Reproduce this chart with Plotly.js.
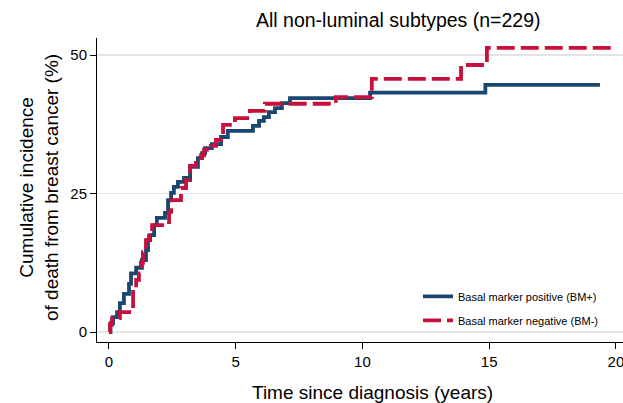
<!DOCTYPE html>
<html>
<head>
<meta charset="utf-8">
<script src="https://cdn.plot.ly/plotly-3.0.1.min.js"></script>
<style>
html,body{margin:0;padding:0;background:#fff;overflow:hidden;}
#chart{width:640px;height:403px;}
</style>
</head>
<body>
<div id="chart"></div>
<script>
// Basal marker positive (BM+): step times (years) and cumulative incidence (%)
var bmPosTime = [0, 0.06, 0.16, 0.32, 0.43, 0.59, 0.79, 0.87, 1.07, 1.30, 1.46, 1.54, 1.62, 1.78, 1.89, 2.21, 2.33, 2.45, 2.56, 2.72, 2.96, 3.20, 3.51, 3.67, 3.79, 4.06, 4.42, 4.69, 5.68, 5.92, 6.11, 6.31, 6.55, 6.82, 7.14, 10.30, 14.85, 19.37];
var bmPosInc  = [0, 1.6, 2.7, 3.6, 5.2, 6.9, 8.7, 10.6, 11.6, 13.0, 14.8, 16.6, 17.5, 19.3, 20.6, 21.5, 23.8, 25.1, 26.2, 27.1, 27.8, 29.8, 31.4, 32.3, 33.2, 33.9, 35.2, 36.3, 37.2, 38.1, 38.8, 39.7, 40.4, 41.3, 42.2, 43.2, 44.6, 44.6];

// Basal marker negative (BM-)
var bmNegTime = [0, 0.04, 0.12, 0.43, 0.95, 1.07, 1.18, 1.26, 1.34, 1.46, 1.58, 1.70, 2.37, 2.45, 2.84, 3.04, 3.20, 3.43, 3.63, 3.75, 4.02, 4.22, 4.50, 4.97, 5.56, 6.15, 8.95, 10.37, 13.89, 14.91, 20.0];
var bmNegInc  = [0, 1.3, 2.5, 3.6, 7.6, 9.4, 10.6, 12.5, 14.4, 16.6, 17.9, 19.3, 21.7, 23.8, 26.0, 27.4, 30.0, 31.0, 31.9, 32.9, 33.6, 34.7, 37.4, 38.6, 39.9, 41.2, 42.4, 45.7, 48.2, 51.3, 51.3];

var seriesNames = ["Basal marker positive (BM+)", "Basal marker negative (BM-)"];
var xTicks = [0, 5, 10, 15, 20];
var yTicks = [0, 25, 50];

var traces = [
  {x: bmPosTime, y: bmPosInc, type: 'scatter', mode: 'lines', name: seriesNames[0], legendgroup: 'a',
   line: {shape: 'hv', color: '#1a476f', width: 3.8}},
  {x: bmNegTime, y: bmNegInc, type: 'scatter', mode: 'lines', name: seriesNames[1], legendgroup: 'b',
   line: {shape: 'hv', color: '#c8103c', width: 3.8, dash: '18px,6px'}}
];

var font = 'Liberation Sans, Arial, sans-serif';
var W = 640, L = 97, R = 17, PW = W - L - R; // plot area right edge at 623 px
var layout = {
  width: W, height: 403,
  margin: {l: L, r: R, t: 38, b: 61},
  paper_bgcolor: '#ffffff', plot_bgcolor: '#ffffff',
  font: {family: font, color: '#000000'},
  showlegend: true,
  legend: {x: (418 - L) / PW, y: 0.198, xanchor: 'left', yanchor: 'top',
           bgcolor: 'rgba(255,255,255,0)', borderwidth: 0,
           font: {size: 11, family: font, color: '#000'},
           tracegroupgap: 5, itemwidth: 30},
  xaxis: {range: [-0.473, 20.28], tickvals: xTicks, ticktext: xTicks.map(String),
          showgrid: false, zeroline: false, showline: true, linecolor: '#000', linewidth: 1,
          ticks: 'outside', ticklen: 6, tickcolor: '#000', tickwidth: 1,
          tickfont: {size: 15, family: font, color: '#000'}},
  yaxis: {range: [-1.8, 53.07], tickvals: yTicks, ticktext: yTicks.map(String),
          showgrid: true, gridcolor: '#e4e4e4', gridwidth: 1.5, zeroline: false,
          showline: true, linecolor: '#000', linewidth: 1,
          ticks: 'outside', ticklen: 6, tickcolor: '#000', tickwidth: 1,
          tickfont: {size: 15, family: font, color: '#000'}},
  annotations: [
    {text: 'All non-luminal subtypes (n=229)', xref: 'paper', yref: 'paper',
     x: (398 - L) / PW, y: 1, yshift: 18, xanchor: 'center', yanchor: 'middle', showarrow: false,
     font: {size: 19.5, family: font, color: '#000'}},
    {text: 'Time since diagnosis (years)', xref: 'paper', yref: 'paper',
     x: (372 - L) / PW, y: 0, yshift: -50, xanchor: 'center', yanchor: 'middle', showarrow: false,
     font: {size: 19, family: font, color: '#000'}},
    {text: 'Cumulative incidence<br>of death from breast cancer (%)', xref: 'paper', yref: 'paper',
     x: 0, xshift: -58, y: (342 - 188) / 304, xanchor: 'center', yanchor: 'middle', showarrow: false,
     textangle: -90, font: {size: 19, family: font, color: '#000'}}
  ]
};

Plotly.newPlot('chart', traces, layout, {displayModeBar: false, staticPlot: true});
</script>
</body>
</html>
